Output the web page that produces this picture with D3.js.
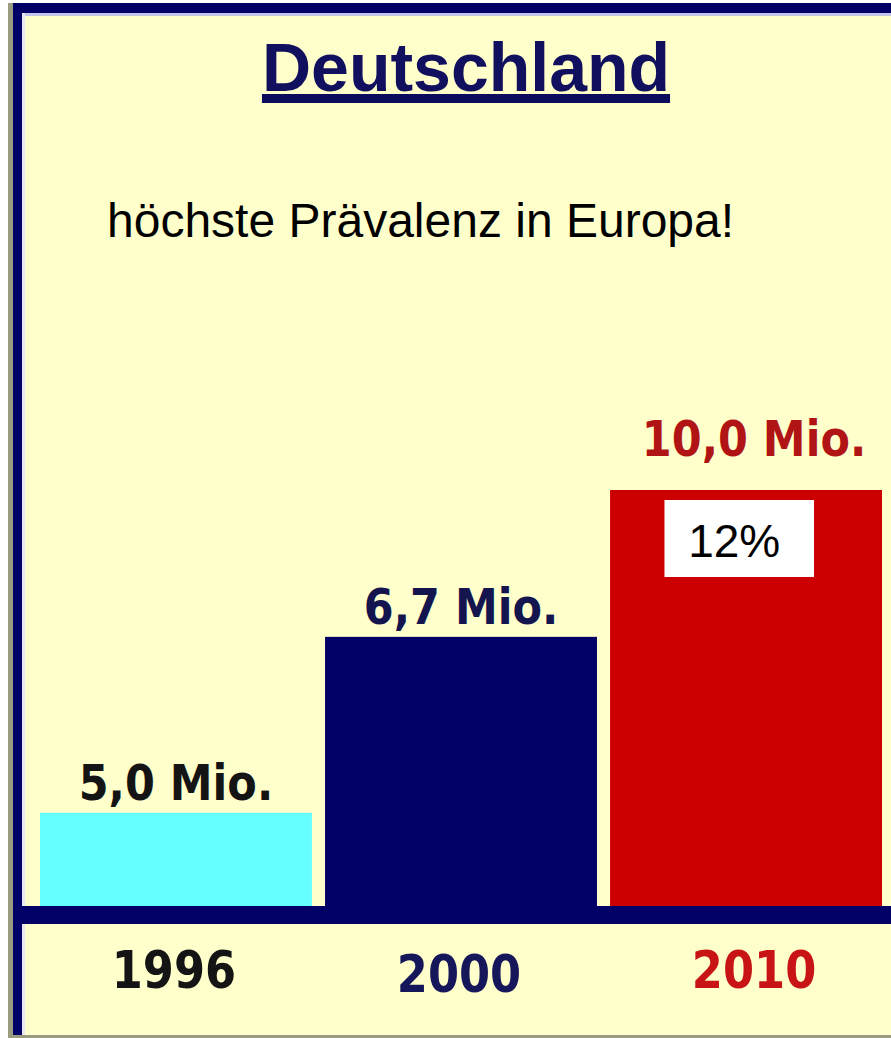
<!DOCTYPE html>
<html>
<head>
<meta charset="utf-8">
<script src="https://cdn.jsdelivr.net/npm/d3@7"></script>
<style>
  html, body { margin: 0; padding: 0; background: #ffffff; }
  svg { display: block; }
</style>
</head>
<body>
<svg id="chart" width="891" height="1038"></svg>
<script>
// ---- data ----
const years = ["1996", "2000", "2010"];
const valueLabels = ["5,0 Mio.", "6,7 Mio.", "10,0 Mio."];
const valuesMio = [5.0, 6.7, 10.0];
// bar heights as drawn in the source (its bars are not to scale), in Mio.-units of the 10,0 bar
const drawnHeights = [2.24, 6.47, 10.0];
const title = "Deutschland";
const subtitle = "höchste Prävalenz in Europa!";
const shareLabel = "12%";

const barColors = ["#66ffff", "#000066", "#cc0000"];
const labelColors = ["#141414", "#14144e", "#b01414"];
const yearColors = ["#141414", "#16165a", "#c81414"];

const W = 891, H = 1038;
const svg = d3.select("#chart");

// frame / background
svg.append("rect").attr("x", 0).attr("y", 0).attr("width", W).attr("height", H).attr("fill", "#ffffff");
svg.append("rect").attr("x", 13).attr("y", 3).attr("width", W - 13).attr("height", 1032).attr("fill", "#ffffcc");
svg.append("rect").attr("x", 8).attr("y", 3).attr("width", 5).attr("height", 1035).attr("fill", "#9a9c80");
svg.append("rect").attr("x", 13).attr("y", 1035).attr("width", W - 13).attr("height", 3).attr("fill", "#9a9c80");
svg.append("rect").attr("x", 13).attr("y", 3).attr("width", W - 13).attr("height", 10).attr("fill", "#000066");
svg.append("rect").attr("x", 22).attr("y", 13).attr("width", W - 22).attr("height", 3).attr("fill", "#c4c4ec");
svg.append("rect").attr("x", 13).attr("y", 3).attr("width", 9).attr("height", 1032).attr("fill", "#000066");
svg.append("rect").attr("x", 22).attr("y", 13).attr("width", 3).attr("height", 1022).attr("fill", "#e8e8f4");

// scales
const baseline = 906;
const x = d3.scaleBand().domain(years).range([40, 882]).paddingInner(0.046).paddingOuter(0);
const y = d3.scaleLinear().domain([0, 10]).range([baseline, 490]);

// title
const titleG = svg.append("g");
const t = titleG.append("text")
  .attr("x", 466).attr("y", 91)
  .attr("text-anchor", "middle")
  .attr("font-family", "Liberation Sans, Arial, sans-serif")
  .attr("font-weight", "bold")
  .attr("font-size", 68)
  .attr("fill", "#10105e")
  .text(title);
const tb = t.node().getBBox();
titleG.append("rect").attr("x", tb.x).attr("y", 94).attr("width", tb.width).attr("height", 9).attr("fill", "#0c0c5c");

// subtitle
svg.append("text")
  .attr("x", 107).attr("y", 237)
  .attr("font-family", "Liberation Sans, Arial, sans-serif")
  .attr("font-size", 48)
  .attr("fill", "#000000")
  .text(subtitle);

// bars
const data = years.map((yr, i) => ({ yr, v: valuesMio[i], h: drawnHeights[i], label: valueLabels[i], i }));

svg.append("g").selectAll("rect").data(data).join("rect")
  .attr("x", d => x(d.yr))
  .attr("y", d => y(d.h))
  .attr("width", x.bandwidth())
  .attr("height", d => baseline - y(d.h))
  .attr("fill", d => barColors[d.i]);

// baseline band
svg.append("rect").attr("x", 22).attr("y", baseline).attr("width", W - 22).attr("height", 18).attr("fill", "#000066");

// value labels
svg.append("g").selectAll("g").data(data).join("g")
  .attr("transform", d => {
    const off = d.i === data.length - 1 ? 34 : 13;
    return `translate(${x(d.yr) + x.bandwidth() / 2 + (d.i === data.length - 1 ? 8 : 0)},${y(d.h) - off}) scale(0.86,1)`;
  })
  .append("text")
  .attr("text-anchor", "middle")
  .attr("font-family", "DejaVu Sans, Verdana, sans-serif")
  .attr("font-weight", "bold")
  .attr("font-size", 50)
  .attr("fill", d => labelColors[d.i])
  .text(d => d.label);

// 12% box on last bar
const last = data[data.length - 1];
const bx = x(last.yr) + x.bandwidth() * 0.2;
const bw = x.bandwidth() * 0.55;
svg.append("rect").attr("x", bx).attr("y", y(last.h) + 10).attr("width", bw).attr("height", 77).attr("fill", "#ffffff");
svg.append("text")
  .attr("x", bx + bw / 2 - 5).attr("y", y(last.h) + 67)
  .attr("text-anchor", "middle")
  .attr("font-family", "Liberation Sans, Arial, sans-serif")
  .attr("font-size", 46)
  .attr("fill", "#000000")
  .text(shareLabel);

// year labels (axis)
svg.append("g").selectAll("g").data(data).join("g")
  .attr("transform", d => `translate(${x(d.yr) + x.bandwidth() / 2 + (d.i === 2 ? 8 : -2)},${d.i === 1 ? 992 : 988}) scale(0.86,1)`)
  .append("text")
  .attr("text-anchor", "middle")
  .attr("font-family", "DejaVu Sans, Verdana, sans-serif")
  .attr("font-weight", "bold")
  .attr("font-size", 52)
  .attr("fill", d => yearColors[d.i])
  .text(d => d.yr);
</script>
</body>
</html>
